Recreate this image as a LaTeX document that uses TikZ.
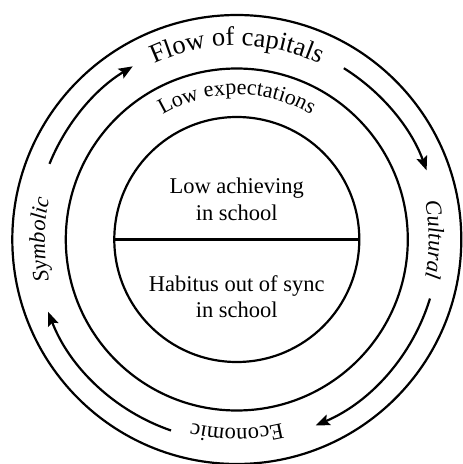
\documentclass[tikz,border=0pt]{standalone}
\usepackage{fontspec}
\setmainfont{Liberation Serif}
\usetikzlibrary{decorations.text, arrows.meta}
\begin{document}
\begin{tikzpicture}[x=1pt,y=1pt,
  ring/.style={circle, draw, line width=2.2pt, inner sep=0pt, outer sep=0pt},
  flow/.style={line width=2.2pt, -{Stealth[length=14pt,width=11pt,inset=2.5pt]}},
  ctext/.style={align=center, inner sep=0pt, font=\fontsize{22.5}{26.5}\selectfont},
  arctext/.style={decorate, decoration={text along path, text align=center, text={#1}}}
]
\useasboundingbox (-236.8,-224.5) rectangle (226.2,239.5);
% rings
\node[ring, minimum size=449pt] (outer) at (0,0) {};
\node[ring, minimum size=342pt] (middle) at (0,0) {};
\node[ring, minimum size=245pt] (inner) at (0,0) {};
\draw[line width=2.2pt] (inner.west) -- (inner.east);
% centre texts
\node[ctext, anchor=north] (ach) at (0,61.8) {Low achieving\\in school};
\node[ctext, anchor=north] (hab) at (0,-35.5) {Habitus out of sync\\in school};
% curved labels
\path[arctext={|\fontsize{26.5}{31}\selectfont|Flow of capitals}]
  (150:194) arc[start angle=150, end angle=30, radius=194];
\path[arctext={|\fontsize{22}{26}\selectfont|Low expectations}]
  (150:145) arc[start angle=150, end angle=30, radius=145];
\path[arctext={|\fontsize{22.5}{26}\selectfont\itshape|Cultural}]
  (40:192) arc[start angle=40, end angle=-40, radius=192];
\path[arctext={|\fontsize{22.5}{26}\selectfont|Economic}]
  (-50:189) arc[start angle=-50, end angle=-130, radius=189];
\path[arctext={|\fontsize{22.5}{26}\selectfont\itshape|Symbolic}]
  (220:192) arc[start angle=220, end angle=140, radius=192];
% flow arrows
\draw[flow] (158:202) arc[start angle=158, end angle=121, radius=202];
\draw[flow] (58:202) arc[start angle=58, end angle=20, radius=202];
\draw[flow] (-17:202) arc[start angle=-17, end angle=-67, radius=202];
\draw[flow] (251:202) arc[start angle=251, end angle=201, radius=202];
\end{tikzpicture}
\end{document}
